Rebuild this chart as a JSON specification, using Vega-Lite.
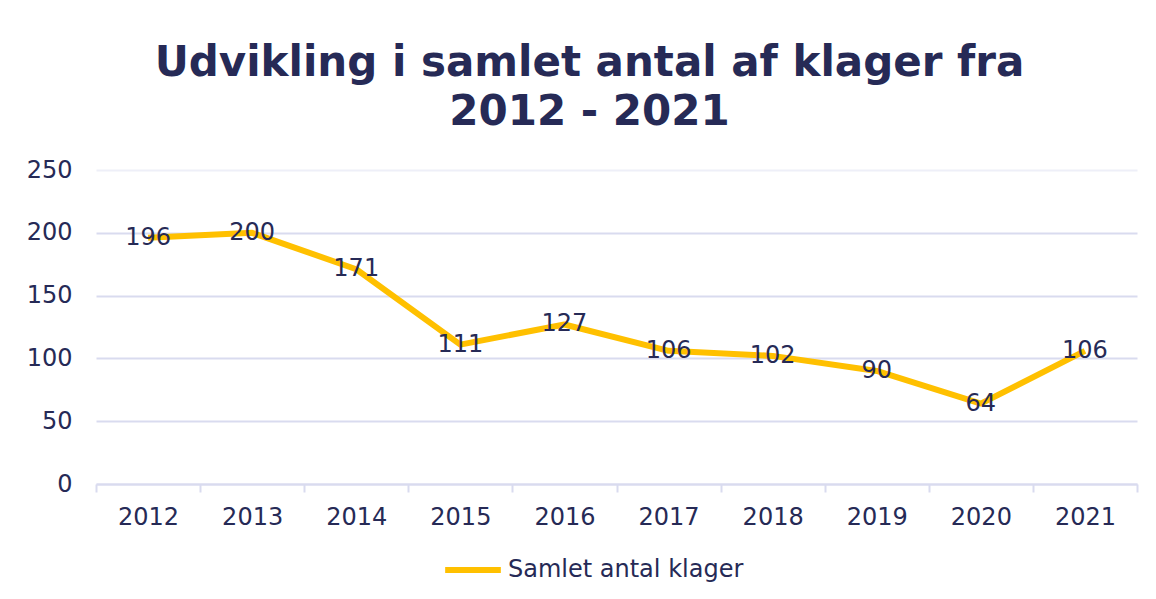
{
  "$schema": "https://vega.github.io/schema/vega-lite/v6.json",
  "autosize": "none",
  "width": 1041,
  "height": 314,
  "padding": {"left": 96, "top": 170, "right": 19, "bottom": 115},
  "background": "white",
  "title": {
    "text": ["Udvikling i samlet antal af klager fra", "2012 - 2021"],
    "font": "DejaVu Sans",
    "fontSize": 42,
    "fontWeight": "bold",
    "color": "#262a56",
    "lineHeight": 49,
    "anchor": "middle",
    "dx": -27,
    "offset": 24
  },
  "data": {
    "values": [
      {"year": "2012", "count": 196, "series": "Samlet antal klager"},
      {"year": "2013", "count": 200, "series": "Samlet antal klager"},
      {"year": "2014", "count": 171, "series": "Samlet antal klager"},
      {"year": "2015", "count": 111, "series": "Samlet antal klager"},
      {"year": "2016", "count": 127, "series": "Samlet antal klager"},
      {"year": "2017", "count": 106, "series": "Samlet antal klager"},
      {"year": "2018", "count": 102, "series": "Samlet antal klager"},
      {"year": "2019", "count": 90, "series": "Samlet antal klager"},
      {"year": "2020", "count": 64, "series": "Samlet antal klager"},
      {"year": "2021", "count": 106, "series": "Samlet antal klager"}
    ]
  },
  "config": {
    "view": {"stroke": null},
    "font": "DejaVu Sans"
  },
  "encoding": {
    "x": {
      "field": "year",
      "type": "ordinal",
      "title": null,
      "scale": {"paddingInner": 0, "paddingOuter": 0},
      "axis": {
        "labelAngle": 0,
        "labelFontSize": 24,
        "labelColor": "#262a56",
        "labelFont": "DejaVu Sans",
        "domainColor": "#d9dbef",
        "domainWidth": 2,
        "tickColor": "#d9dbef",
        "tickWidth": 2,
        "tickSize": 8,
        "tickBand": "extent",
        "labelPadding": 13,
        "grid": false
      }
    },
    "y": {
      "field": "count",
      "type": "quantitative",
      "title": null,
      "scale": {"domain": [0, 250], "nice": false},
      "axis": {
        "values": [0, 50, 100, 150, 200, 250],
        "labelFontSize": 24,
        "labelColor": "#262a56",
        "labelFont": "DejaVu Sans",
        "domain": false,
        "ticks": false,
        "labelPadding": 24,
        "gridColor": {"condition": {"test": "datum.value === 250", "value": "#eeeff8"}, "value": "#d9dbef"},
        "gridWidth": 2
      }
    }
  },
  "layer": [
    {
      "mark": {"type": "line", "strokeWidth": 6, "strokeJoin": "round"},
      "encoding": {
        "color": {
          "field": "series",
          "type": "nominal",
          "scale": {"range": ["#ffc000"]},
          "legend": {
            "title": null,
            "orient": "none",
            "legendX": 346,
            "legendY": 369,
            "symbolType": "stroke",
            "symbolSize": 3100,
            "symbolStrokeWidth": 6,
            "labelFontSize": 24,
            "labelColor": "#262a56",
            "labelFont": "DejaVu Sans",
            "labelOffset": 4,
            "labelLimit": 400
          }
        }
      }
    },
    {
      "mark": {"type": "text", "fontSize": 24, "color": "#262a56", "align": "center", "baseline": "middle", "font": "DejaVu Sans"},
      "encoding": {"text": {"field": "count", "type": "quantitative"}}
    }
  ]
}
